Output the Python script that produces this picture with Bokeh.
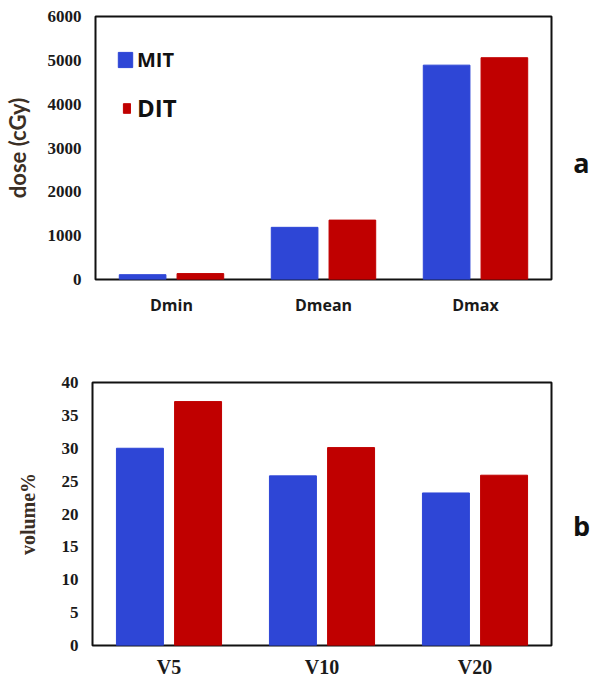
from bokeh.plotting import figure
from bokeh.layouts import column, row
from bokeh.models import FactorRange, Range1d, FixedTicker, Legend, LegendItem
from bokeh.core.properties import value
from bokeh.transform import dodge
from bokeh.embed import file_html
from bokeh.resources import INLINE

# ---- data ----
dose_cats = ["Dmin", "Dmean", "Dmax"]
dose_mit = [110, 1190, 4890]
dose_dit = [135, 1355, 5060]
dose_ticks = [0, 1000, 2000, 3000, 4000, 5000, 6000]

vol_cats = ["V5", "V10", "V20"]
vol_mit = [30.0, 25.8, 23.2]
vol_dit = [37.1, 30.1, 25.9]
vol_ticks = [0, 5, 10, 15, 20, 25, 30, 35, 40]

series_names = ["MIT", "DIT"]
panel_labels = ["a", "b"]

BLUE = "#2E46D6"
RED = "#C00000"
SERIF = "Liberation Serif"
SANS = "Lato"


def style(p, ticks, xfont, xsize, xstand, ytitle, ytitle_font, ytitle_size, ystand):
    p.xgrid.grid_line_color = None
    p.ygrid.grid_line_color = None
    p.outline_line_color = "#111111"
    p.outline_line_width = 2
    p.yaxis.ticker = FixedTicker(ticks=ticks)
    for ax in (p.xaxis[0], p.yaxis[0]):
        ax.axis_line_color = None
        ax.major_tick_line_color = None
        ax.minor_tick_line_color = None
        ax.major_tick_in = 0
        ax.major_tick_out = 0
        ax.minor_tick_out = 0
        ax.major_label_text_font_style = "bold"
        ax.major_label_text_color = "#1a1a1a"
    p.yaxis.major_label_text_font = SERIF
    p.yaxis.major_label_text_font_size = "17px"
    p.yaxis.major_label_standoff = 14
    p.xaxis.major_label_text_font = xfont
    p.xaxis.major_label_text_font_size = xsize
    p.xaxis.major_label_standoff = xstand
    p.yaxis.axis_label = ytitle
    p.yaxis.axis_label_text_font = ytitle_font
    p.yaxis.axis_label_text_font_style = "bold"
    p.yaxis.axis_label_text_font_size = ytitle_size
    p.yaxis.axis_label_text_color = "#3b2f25"
    p.yaxis.axis_label_standoff = ystand


def side(y_range, h, top, bottom, yval, label):
    s = figure(x_range=Range1d(0, 1), y_range=y_range, width=36, height=h,
               output_backend="svg", toolbar_location=None,
               min_border_left=0, min_border_right=0,
               min_border_top=top, min_border_bottom=bottom)
    s.axis.visible = False
    s.grid.grid_line_color = None
    s.outline_line_color = None
    s.text(x=[0.72], y=[yval], text=[label], text_font=value("Open Sans"),
           text_font_style="bold", text_font_size="27px",
           text_align="center", text_baseline="middle", text_color="#111111")
    return s


# ---- top chart ----
yr1 = Range1d(0, 6000)
p1 = figure(x_range=FactorRange(factors=dose_cats, range_padding=0),
            y_range=yr1, width=555, height=339,
            output_backend="svg", toolbar_location=None,
            min_border_left=92, min_border_right=4,
            min_border_top=16, min_border_bottom=60)
src1 = dict(cat=dose_cats, mit=dose_mit, dit=dose_dit)
r1a = p1.vbar(x=dodge("cat", -0.19, range=p1.x_range), top="mit", width=0.307,
              source=src1, fill_color=BLUE, line_color=BLUE)
r1b = p1.vbar(x=dodge("cat", 0.19, range=p1.x_range), top="dit", width=0.307,
              source=src1, fill_color=RED, line_color=RED)
style(p1, dose_ticks, "Open Sans", "16px", 14, "dose (cGy)", SANS, "22px", 14)

leg_a = Legend(items=[LegendItem(label=series_names[0], renderers=[r1a])],
               location=(21, 206), glyph_width=18, glyph_height=19,
               label_text_font="Open Sans", label_text_font_size="20px",
               label_text_font_style="bold", label_text_color="#111111",
               label_standoff=3, padding=0, margin=0, spacing=0,
               border_line_color=None, background_fill_alpha=0,
               label_height=19)
leg_b = Legend(items=[LegendItem(label=series_names[1], renderers=[r1b])],
               location=(27, 155), glyph_width=9, glyph_height=12,
               label_text_font="Open Sans", label_text_font_size="24px",
               label_text_font_style="bold", label_text_color="#111111",
               label_standoff=6, padding=0, margin=0, spacing=0,
               border_line_color=None, background_fill_alpha=0,
               label_height=12)
p1.add_layout(leg_a)
p1.add_layout(leg_b)
s1 = side(yr1, 339, 16, 60, 2670, panel_labels[0])

# ---- bottom chart ----
yr2 = Range1d(0, 40)
p2 = figure(x_range=FactorRange(factors=vol_cats, range_padding=0),
            y_range=yr2, width=555, height=341,
            output_backend="svg", toolbar_location=None,
            min_border_left=92, min_border_right=4,
            min_border_top=43, min_border_bottom=34)
src2 = dict(cat=vol_cats, mit=vol_mit, dit=vol_dit)
p2.vbar(x=dodge("cat", -0.19, range=p2.x_range), top="mit", width=0.307,
        source=src2, fill_color=BLUE, line_color=BLUE)
p2.vbar(x=dodge("cat", 0.19, range=p2.x_range), top="dit", width=0.307,
        source=src2, fill_color=RED, line_color=RED)
style(p2, vol_ticks, SERIF, "20px", 10, "volume%", SERIF, "20px", 20)
s2 = side(yr2, 341, 43, 34, 18.2, panel_labels[1])

layout = column(row(p1, s1, spacing=0), row(p2, s2, spacing=0), spacing=0)
open("out.html", "w").write(file_html(layout, INLINE))
